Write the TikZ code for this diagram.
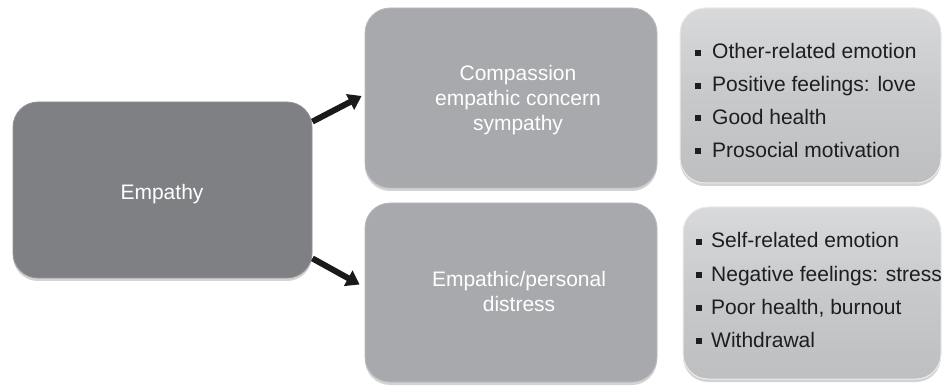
\documentclass[tikz,border=0pt]{standalone}
\usepackage{fontspec}
\setmainfont{Liberation Sans}
\usetikzlibrary{arrows.meta,shadows}
\definecolor{empc}{HTML}{7F8084}
\definecolor{midc}{HTML}{A8A9AC}
\definecolor{rgtc}{HTML}{C8C9CB}
\definecolor{txtd}{HTML}{1E1E1E}
\definecolor{arrc}{HTML}{1A1A1A}
\tikzset{
  box/.style={rounded corners=25pt, inner sep=0pt,
    drop shadow={shadow xshift=0pt, shadow yshift=-3pt, opacity=0.35}},
  empbox/.style={box, fill=empc, draw=empc!85!white, line width=0.8pt},
  midbox/.style={box, fill=midc, draw=midc!80!white, line width=0.8pt},
  rgtbox/.style={box, top color=rgtc!70!white, bottom color=rgtc!95!black,
    middle color=rgtc, draw=white!85!gray, line width=1pt},
  wtxt/.style={font=\fontsize{21}{25}\selectfont, text=white, inner sep=0pt, anchor=base},
  ltxt/.style={font=\fontsize{21}{25}\selectfont, text=txtd, inner sep=0pt, anchor=base west},
  bul/.style={fill=txtd, minimum size=6pt, inner sep=0pt},
  arr/.style={draw=arrc, line width=6pt, -{Triangle[width=17pt,length=13pt]}, fill=arrc}
}
\begin{document}
\begin{tikzpicture}[x=1pt,y=-1pt]
\useasboundingbox (0,0) rectangle (942,387);
% boxes
\node[empbox, minimum width=299pt, minimum height=176pt] (emp) at (162.5,190) {};
\node[midbox, minimum width=292pt, minimum height=180pt] (comp) at (511,98) {};
\node[midbox, minimum width=292pt, minimum height=179pt] (dist) at (511,292.5) {};
\node[rgtbox, minimum width=261pt, minimum height=175pt] (pos) at (810.5,95.5) {};
\node[rgtbox, minimum width=258pt, minimum height=172pt] (neg) at (812,293) {};
% texts
\node[wtxt] (tEmp) at (162,200) {Empathy};
\node[wtxt] (tC1) at (518,81) {Compassion};
\node[wtxt] (tC2) at (518,106) {empathic concern};
\node[wtxt] (tC3) at (518,131) {sympathy};
\node[wtxt] (tD1) at (519,287) {Empathic/personal};
\node[wtxt] (tD2) at (519,312) {distress};
% lists
\foreach \t [count=\i] in {Other-related emotion, Positive feelings: love, Good health, Prosocial motivation}{
  \node[ltxt] (p\i) at (712, 59+32.7*\i-32.7) {\t};
  \node[bul] (pb\i) at (698, 53+32.7*\i-32.7) {};
}
\foreach \t [count=\i] in {Self-related emotion, Negative feelings: stress, {Poor health, burnout}, Withdrawal}{
  \node[ltxt] (n\i) at (711, 248+33*\i-33) {\t};
  \node[bul] (nb\i) at (699, 242+33*\i-33) {};
}
% arrows
\draw[arr] ([yshift=-20pt]emp.north east) -- ([xshift=-3pt,yshift=2pt]comp.west);
\draw[arr] ([yshift=20pt]emp.south east) -- ([xshift=-5pt,yshift=8pt]dist.west);
\end{tikzpicture}
\end{document}
